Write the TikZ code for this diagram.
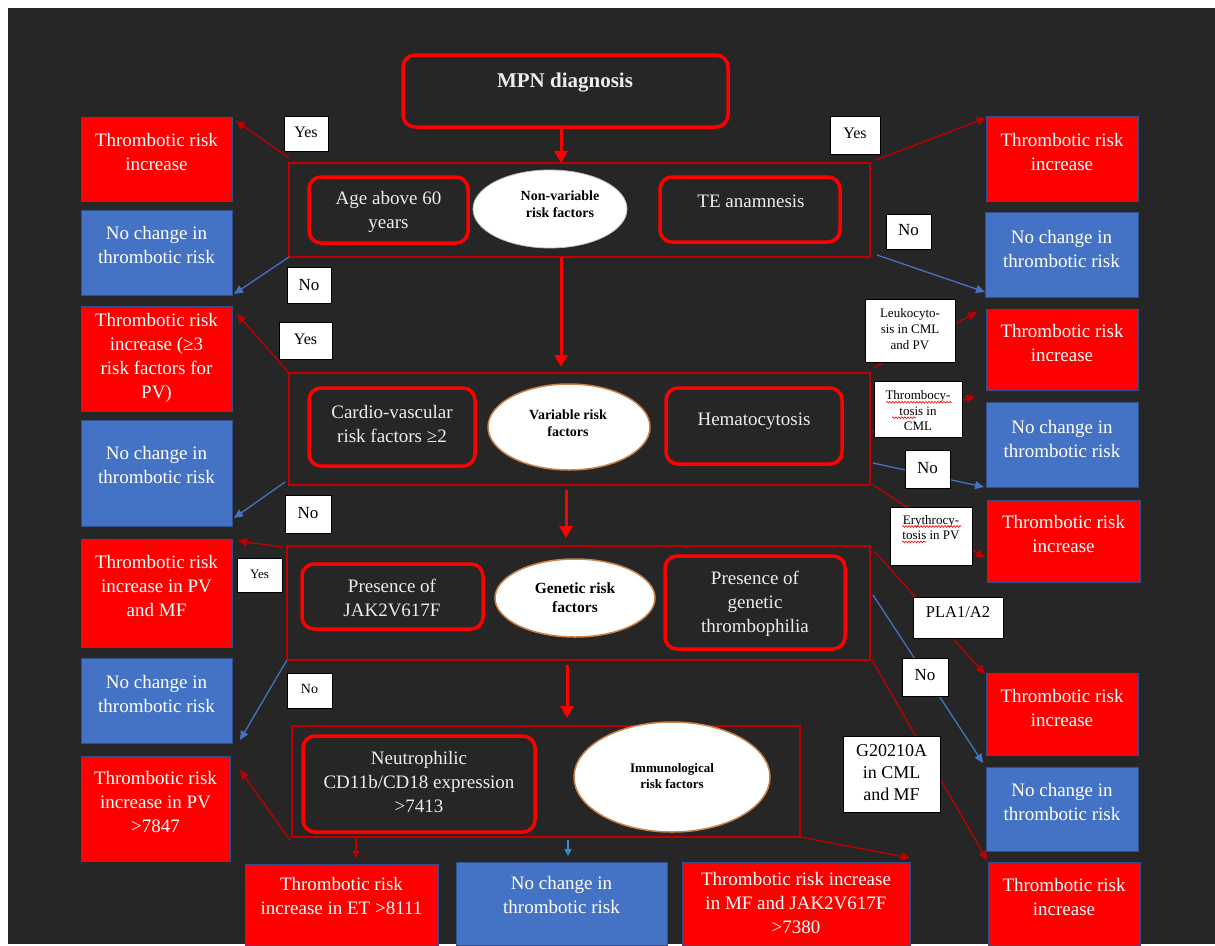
\documentclass[tikz,border=0pt]{standalone}
\usepackage{fontspec}
\setmainfont{Liberation Serif}
\usetikzlibrary{arrows.meta,shapes.geometric,decorations.pathmorphing}
\definecolor{bg}{HTML}{262626}
\definecolor{boxred}{HTML}{FF0000}
\definecolor{boxblue}{HTML}{4472C4}
\definecolor{edgeblue}{HTML}{2F528F}
\definecolor{framered}{HTML}{C00000}
\definecolor{linkred}{HTML}{C00000}
\definecolor{linkblue}{HTML}{4472C4}
\definecolor{softtext}{HTML}{EDEDED}
\definecolor{elledge}{HTML}{C8824A}
\newcommand\mkobox[8]{%
  \node[#2, minimum width=#5-#3, minimum height=#6-#4] (#1) at (#3,#4) {};
  \node[boxtext] (#1t) at ({(#3+#5)/2},#7) {#8};}
\newcommand\mkrbox[8]{%
  \node[rbox, minimum width=#4-#2, minimum height=#5-#3] (#1) at (#2,#3) {};
  \node[rtext] (#1t) at (#6,#7) {#8};}
\newcommand\mklab[8]{%
  \node[lab, minimum width=#4-#2, minimum height=#5-#3] (#1) at (#2,#3) {};
  \node[labtext, font=#7] (#1t) at ({(#2+#4)/2},#6) {#8};}
\begin{document}
\begin{tikzpicture}[x=1pt,y=-1pt,
  frame/.style={draw=framered, line width=1.2pt, inner sep=0pt, outer sep=0pt, anchor=north west},
  rbox/.style={draw=boxred, line width=3.5pt, rounded corners=12pt, inner sep=0pt, outer sep=0pt, anchor=north west},
  redbox/.style={fill=boxred, draw=edgeblue, line width=0.8pt, inner sep=0pt, outer sep=0pt, anchor=north west},
  bluebox/.style={fill=boxblue, draw=edgeblue, line width=0.8pt, inner sep=0pt, outer sep=0pt, anchor=north west},
  boxtext/.style={text=white, align=center, inner sep=0pt, font=\fontsize{19}{24}\selectfont},
  rtext/.style={text=softtext, align=center, inner sep=0pt, font=\fontsize{19}{24}\selectfont},
  ell/.style={ellipse, fill=white, draw=elledge, line width=1.5pt, inner sep=0pt},
  elltext/.style={text=black, align=center, inner sep=0pt},
  lab/.style={fill=white, draw=black, line width=0.8pt, inner sep=0pt, outer sep=0pt, anchor=north west},
  labtext/.style={text=black, align=center, inner sep=0pt},
  redlink/.style={draw=linkred, line width=1.3pt, -{Triangle[length=9pt,width=8pt]}},
  bluelink/.style={draw=linkblue, line width=1.3pt, -{Triangle[length=9pt,width=8pt]}},
  mainarrow/.style={draw=boxred, line width=3pt, -{Triangle[length=12pt,width=13pt]}},
  squig/.style={draw=red, line width=0.6pt, decorate, decoration={snake, amplitude=0.9pt, segment length=3pt}}
]
% background
\fill[white] (0,0) rectangle (1215,944);
\fill[bg] (8,8) rectangle (1215,944);

% top box
\mkrbox{MPN}{403}{55}{728}{127}{565}{83}{\bfseries\fontsize{21}{24}\selectfont MPN diagnosis}

% frames
\node[frame, minimum width=581, minimum height=94] (F1) at (289,163) {};
\node[frame, minimum width=581, minimum height=112] (F2) at (289,373) {};
\node[frame, minimum width=583, minimum height=114] (F3) at (287,546) {};
\node[frame, minimum width=508, minimum height=111] (F4) at (292,726) {};

% inner rounded boxes
\mkrbox{Age}{309}{177}{468}{243}{388.5}{211.5}{Age above 60\\years}
\mkrbox{TE}{660}{177}{840}{242}{751}{201}{TE anamnesis}
\mkrbox{CV}{309}{388}{475}{466}{392}{424}{Cardio-vascular\\risk factors ≥2}
\mkrbox{Hem}{666}{388}{842}{464}{754}{421}{Hematocytosis}
\mkrbox{JAK}{302}{564}{483}{629}{392}{597.5}{Presence of\\JAK2V617F}
\mkrbox{GT}{665}{556}{845}{649}{755}{604}{Presence of\\genetic\\thrombophilia}
\mkrbox{NCD}{303}{736}{535}{832}{419}{782}{Neutrophilic\\CD11b/CD18 expression\\>7413}

% ellipses
\node[ell, draw=white!75!black, line width=0.8pt, minimum width=154, minimum height=78] (E1) at (550,209) {};
\node[elltext, font=\bfseries\fontsize{14}{17}\selectfont] (E1t) at (560,204) {Non-variable\\risk factors};
\node[ell, minimum width=162, minimum height=86] (E2) at (569,427) {};
\node[elltext, font=\bfseries\fontsize{14}{17}\selectfont] (E2t) at (568,423) {Variable risk\\factors};
\node[ell, minimum width=160, minimum height=78] (E3) at (575,598) {};
\node[elltext, font=\bfseries\fontsize{15.5}{19}\selectfont] (E3t) at (575,598) {Genetic risk\\factors};
\node[ell, minimum width=196, minimum height=110] (E4) at (672,777) {};
\node[elltext, font=\bfseries\fontsize{13}{16}\selectfont] (E4t) at (672,776) {Immunological\\risk factors};

% left column
\mkobox{L1}{redbox}{81}{117}{232}{201}{152}{Thrombotic risk\\increase}
\mkobox{L2}{bluebox}{81}{210}{232}{295}{245}{No change in\\thrombotic risk}
\mkobox{L3}{redbox}{81}{306}{232}{411}{358}{Thrombotic risk\\increase (≥3\\risk factors for\\PV)}
\mkobox{L4}{bluebox}{81}{420}{232}{526}{465}{No change in\\thrombotic risk}
\mkobox{L5}{redbox}{81}{539}{232}{647}{586}{Thrombotic risk\\increase in PV\\and MF}
\mkobox{L6}{bluebox}{81}{658}{232}{743}{693.5}{No change in\\thrombotic risk}
\mkobox{L7}{redbox}{81}{756}{230}{861}{802}{Thrombotic risk\\increase in PV\\>7847}

% right column
\mkobox{R1}{redbox}{986}{116}{1138}{201}{152}{Thrombotic risk\\increase}
\mkobox{R2}{bluebox}{985}{212}{1138}{297}{248.5}{No change in\\thrombotic risk}
\mkobox{R3}{redbox}{986}{309}{1138}{390}{343}{Thrombotic risk\\increase}
\mkobox{R4}{bluebox}{986}{402}{1138}{487}{439}{No change in\\thrombotic risk}
\mkobox{R5}{redbox}{987}{500}{1140}{582}{534}{Thrombotic risk\\increase}
\mkobox{R6}{redbox}{986}{673}{1138}{755}{708}{Thrombotic risk\\increase}
\mkobox{R7}{bluebox}{986}{767}{1138}{851}{802}{No change in\\thrombotic risk}
\mkobox{R8}{redbox}{988}{862}{1140}{945}{896.5}{Thrombotic risk\\increase}

% bottom row
\mkobox{B1}{redbox}{245}{864}{438}{945}{896}{Thrombotic risk\\increase in ET >8111}
\mkobox{B2}{bluebox}{456}{862}{667}{945}{895}{No change in\\thrombotic risk}
\mkobox{B3}{redbox}{682}{862}{910}{945}{903}{Thrombotic risk increase\\in MF and JAK2V617F\\>7380}

% main vertical arrows
\draw[mainarrow] ([xshift=-4.5pt]MPN.south) -- ([xshift=-4.5pt]MPN.south |- F1.north);
\draw[mainarrow] ([xshift=-18.5pt]F1.south) -- ([xshift=-18.5pt,yshift=6pt]F1.south |- F2.north);
\draw[mainarrow] ([xshift=-13.5pt,yshift=-5pt]F2.south) -- ([xshift=-13.5pt,yshift=8pt]F2.south |- F3.north);
\draw[mainarrow] ([xshift=-11.5pt,yshift=-5pt]F3.south) -- ([xshift=-11.5pt,yshift=8pt]F3.south |- F4.north);

% left links
\draw[redlink] ([yshift=5pt]F1.north west) -- ([xshift=4pt,yshift=-4pt]L1.north east);
\draw[bluelink] (F1.south west) -- ([xshift=2pt,yshift=1pt]L2.south east);
\draw[redlink] (F2.north west) -- ([xshift=5pt,yshift=-8pt]L3.north east);
\draw[bluelink] ([xshift=-4pt,yshift=3pt]F2.south west) -- ([xshift=2pt,yshift=8pt]L4.south east);
\draw[redlink] ([xshift=-4pt,yshift=-1pt]F3.north west) -- ([xshift=6pt,yshift=-2pt]L5.north east);
\draw[bluelink] (F3.south west) -- ([xshift=8pt,yshift=3pt]L6.south east);
\draw[redlink] ([xshift=-2pt,yshift=-3pt]F4.south west) -- ([xshift=10pt,yshift=-14pt]L7.north east);

% right links
\draw[redlink] ([xshift=6pt,yshift=3pt]F1.north east) -- ([yshift=-2pt]R1.north west);
\draw[bluelink] ([xshift=7pt,yshift=2pt]F1.south east) -- ([yshift=5pt]R2.south west);
\draw[redlink] ([xshift=3pt,yshift=5pt]F2.north east) -- ([xshift=-9pt,yshift=-3pt]R3.north west);
\draw[redlink] ([xshift=2pt,yshift=-3pt]F2.east) -- ([xshift=-11pt,yshift=6pt]R4.north west);
\draw[bluelink] ([xshift=3pt,yshift=22pt]F2.south east) -- ([xshift=-2pt]R4.south west);
\draw[redlink] ([xshift=3pt]F2.south east) -- ([xshift=-2pt,yshift=-17pt]R5.west);
\draw[redlink] ([xshift=4pt,yshift=-5pt]F3.north east) -- ([xshift=-1pt,yshift=-1pt]R6.north west);
\draw[bluelink] ([xshift=3pt,yshift=8pt]F3.east) -- ([xshift=-3pt,yshift=4pt]R7.north west);
\draw[redlink] ([xshift=2pt]F3.south east) -- ([xshift=-1pt,yshift=2pt]R8.north west);

% bottom links
\draw[redlink, -{Triangle[length=7pt,width=7pt]}] ([xshift=14.5pt]B1.north |- F4.south) -- ([xshift=14.5pt,yshift=6pt]B1.north);
\draw[bluelink, -{Triangle[length=7pt,width=7pt]}, draw=boxblue!80!cyan] ([xshift=6.5pt,yshift=-3pt]B2.north |- F4.south) -- ([xshift=6.5pt,yshift=6pt]B2.north);
\draw[redlink] ([xshift=-5pt,yshift=1pt]F4.south east) -- ([yshift=4pt]B3.north east);

% labels
\mklab{Y1}{284}{116}{328}{151}{132}{\fontsize{16}{19}\selectfont}{Yes}
\mklab{Y2}{830}{116}{880}{154}{133}{\fontsize{16}{19}\selectfont}{Yes}
\mklab{N1}{287}{267}{331}{303}{285}{\fontsize{17}{19}\selectfont}{No}
\mklab{N2}{886}{214}{931}{249}{230}{\fontsize{17}{19}\selectfont}{No}
\mklab{Y3}{279}{322}{332}{359}{339}{\fontsize{16}{19}\selectfont}{Yes}
\mklab{LK}{865}{299}{955}{362}{329}{\fontsize{13}{16}\selectfont}{Leukocyto-\\sis in CML\\and PV}
\mklab{TH}{874}{381}{962}{437}{411}{\fontsize{13}{15.5}\selectfont}{Thrombocy-\\tosis in\\CML}
\mklab{N3}{905}{450}{950}{488}{468}{\fontsize{17}{19}\selectfont}{No}
\mklab{N4}{285}{495}{331}{533}{513}{\fontsize{17}{19}\selectfont}{No}
\mklab{ER}{890}{507}{972}{565}{527.5}{\fontsize{13}{15.5}\selectfont}{Erythrocy-\\tosis in PV}
\mklab{Y4}{237}{558}{282}{592}{574}{\fontsize{13}{15}\selectfont}{Yes}
\mklab{PL}{913}{597}{1003}{638}{612}{\fontsize{16.5}{19}\selectfont}{PLA1/A2}
\mklab{N5}{287}{673}{332}{708}{689}{\fontsize{14}{16}\selectfont}{No}
\mklab{N6}{902}{658}{948}{696}{675}{\fontsize{17}{19}\selectfont}{No}
\mklab{GA}{843}{736}{940}{812}{772.5}{\fontsize{18}{22}\selectfont}{G20210A\\in CML\\and MF}

% spell-check squiggles
\draw[squig] ([xshift=-32pt,yshift=-11.5pt]THt.north) -- ([xshift=34pt,yshift=-11.5pt]THt.north);
\draw[squig] ([xshift=-26pt,yshift=-27pt]THt.north) -- ([xshift=-2pt,yshift=-27pt]THt.north);
\draw[squig] ([xshift=-29pt,yshift=-11.5pt]ERt.north) -- ([xshift=30pt,yshift=-11.5pt]ERt.north);
\draw[squig] ([xshift=-29pt,yshift=-27pt]ERt.north) -- ([xshift=-5pt,yshift=-27pt]ERt.north);
\end{tikzpicture}
\end{document}
